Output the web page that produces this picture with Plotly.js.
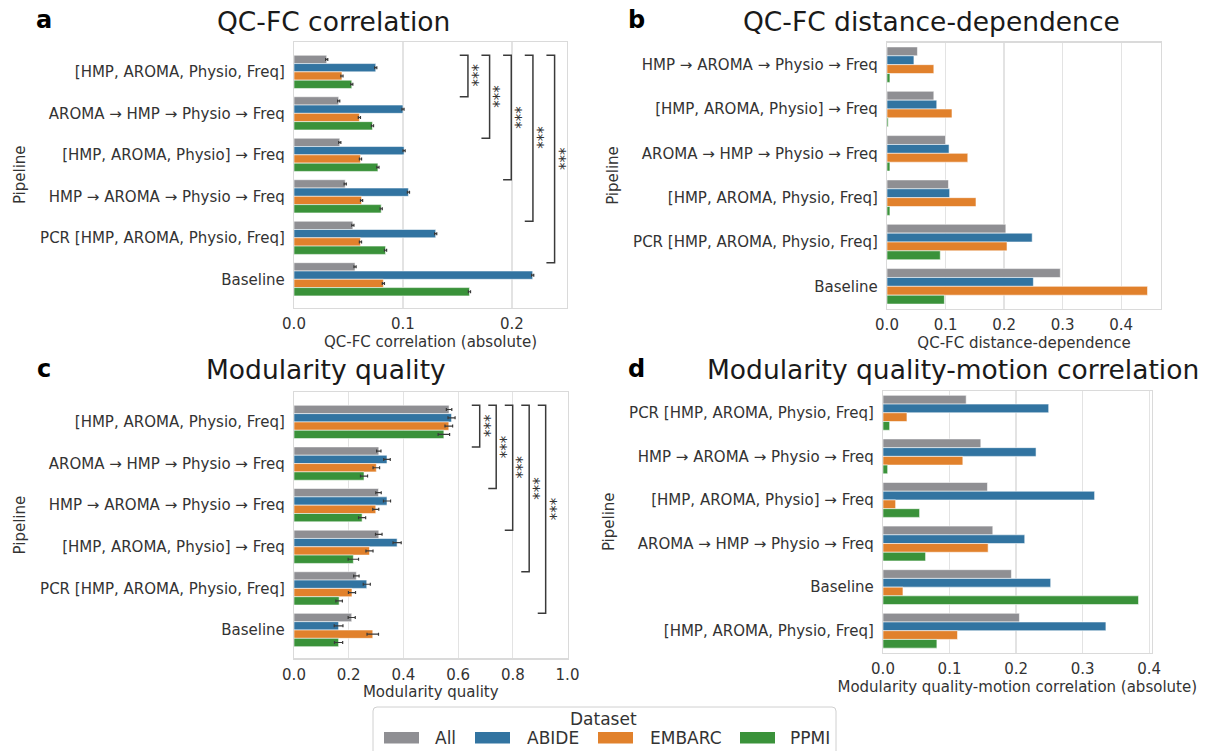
<!DOCTYPE html>
<html>
<head>
<meta charset="utf-8">
<script src="https://cdn.plot.ly/plotly-3.0.1.min.js"></script>
<style>html,body{margin:0;padding:0;background:#fff;}#chart{width:1211px;height:751px;}</style>
</head>
<body>
<div id="chart"></div>
<script>
// ---------------- DATA ----------------
const datasets = ['All', 'ABIDE', 'EMBARC', 'PPMI'];

// a: QC-FC correlation (absolute)
const qcfcPipelines = ['[HMP, AROMA, Physio, Freq]', 'AROMA → HMP → Physio → Freq', '[HMP, AROMA, Physio] → Freq', 'HMP → AROMA → Physio → Freq', 'PCR [HMP, AROMA, Physio, Freq]', 'Baseline'];
const qcfcAll    = [0.030, 0.041, 0.042, 0.047, 0.054, 0.056];
const qcfcABIDE  = [0.075, 0.100, 0.101, 0.105, 0.130, 0.219];
const qcfcEMBARC = [0.044, 0.060, 0.061, 0.062, 0.061, 0.082];
const qcfcPPMI   = [0.053, 0.072, 0.077, 0.080, 0.084, 0.161];
const qcfcErr    = [0.001, 0.001, 0.001, 0.001, 0.001, 0.001];
const qcfcSigPairs = [[0, 1], [0, 2], [0, 3], [0, 4], [0, 5]];
const qcfcSigLabels = ['***', '***', '***', '***', '***'];

// b: QC-FC distance-dependence
const distPipelines = ['HMP → AROMA → Physio → Freq', '[HMP, AROMA, Physio] → Freq', 'AROMA → HMP → Physio → Freq', '[HMP, AROMA, Physio, Freq]', 'PCR [HMP, AROMA, Physio, Freq]', 'Baseline'];
const distAll    = [0.052, 0.080, 0.100, 0.105, 0.203, 0.296];
const distABIDE  = [0.046, 0.085, 0.106, 0.107, 0.248, 0.250];
const distEMBARC = [0.080, 0.111, 0.138, 0.152, 0.205, 0.445];
const distPPMI   = [0.005, 0.002, 0.005, 0.005, 0.091, 0.098];

// c: Modularity quality
const modPipelines = ['[HMP, AROMA, Physio, Freq]', 'AROMA → HMP → Physio → Freq', 'HMP → AROMA → Physio → Freq', '[HMP, AROMA, Physio] → Freq', 'PCR [HMP, AROMA, Physio, Freq]', 'Baseline'];
const modAll    = [0.567, 0.310, 0.309, 0.310, 0.228, 0.211];
const modABIDE  = [0.576, 0.340, 0.340, 0.377, 0.266, 0.163];
const modEMBARC = [0.566, 0.301, 0.299, 0.276, 0.212, 0.288];
const modPPMI   = [0.548, 0.256, 0.249, 0.217, 0.165, 0.163];
const modAllErr    = [0.010, 0.008, 0.010, 0.012, 0.010, 0.013];
const modABIDEErr  = [0.013, 0.012, 0.013, 0.015, 0.013, 0.016];
const modEMBARCErr = [0.014, 0.012, 0.011, 0.013, 0.013, 0.021];
const modPPMIErr   = [0.021, 0.013, 0.013, 0.019, 0.012, 0.015];
const modSigPairs = [[0, 1], [0, 2], [0, 3], [0, 4], [0, 5]];
const modSigLabels = ['***', '***', '***', '***', '***'];

// d: Modularity quality-motion correlation (absolute)
const qmPipelines = ['PCR [HMP, AROMA, Physio, Freq]', 'HMP → AROMA → Physio → Freq', '[HMP, AROMA, Physio] → Freq', 'AROMA → HMP → Physio → Freq', 'Baseline', '[HMP, AROMA, Physio, Freq]'];
const qmAll    = [0.125, 0.147, 0.157, 0.165, 0.193, 0.205];
const qmABIDE  = [0.249, 0.230, 0.318, 0.213, 0.252, 0.335];
const qmEMBARC = [0.036, 0.120, 0.019, 0.158, 0.030, 0.112];
const qmPPMI   = [0.010, 0.007, 0.055, 0.064, 0.384, 0.081];

// ---------------- STYLE ----------------
const W = 1211, H = 751;
const FONT = 'DejaVu Sans, Verdana, sans-serif';
const TXT = '#333333';
const colors = ['#8f8f93', '#3274a1', '#e1812c', '#3a923a'];
const px = v => v / W;
const py = v => 1 - v / H;

const panels = [
  { n: '',  cats: qcfcPipelines, vals: [qcfcAll, qcfcABIDE, qcfcEMBARC, qcfcPPMI], errs: [qcfcErr, qcfcErr, qcfcErr, qcfcErr],
    xd: [294, 567], yd: [42, 307.5], xr: [0, 0.2505], yr: [5.68, -0.72], dtick: 0.1, xtitle: 'QC-FC correlation (absolute)' },
  { n: '2', cats: distPipelines, vals: [distAll, distABIDE, distEMBARC, distPPMI], errs: null,
    xd: [887, 1161], yd: [42.5, 308.5], xr: [0, 0.468], yr: [5.5, -0.5], dtick: 0.1, xtitle: 'QC-FC distance-dependence' },
  { n: '3', cats: modPipelines, vals: [modAll, modABIDE, modEMBARC, modPPMI], errs: [modAllErr, modABIDEErr, modEMBARCErr, modPPMIErr],
    xd: [294, 567.5], yd: [392, 658.3], xr: [0, 1.0], yr: [5.68, -0.72], dtick: 0.2, xtitle: 'Modularity quality' },
  { n: '4', cats: qmPipelines, vals: [qmAll, qmABIDE, qmEMBARC, qmPPMI], errs: null,
    xd: [883, 1151.5], yd: [391, 652.5], xr: [0, 0.4035], yr: [5.5, -0.5], dtick: 0.1, xtitle: 'Modularity quality-motion correlation (absolute)' }
];

const traces = [];
const layout = {
  width: W, height: H,
  margin: { l: 0, r: 0, t: 0, b: 0 },
  paper_bgcolor: '#ffffff', plot_bgcolor: '#ffffff',
  font: { family: FONT, color: TXT, size: 15 },
  barmode: 'group', bargap: 0.2, bargroupgap: 0,
  showlegend: false,
  shapes: [], annotations: []
};

panels.forEach(p => {
  datasets.forEach((ds, j) => {
    const t = {
      type: 'bar', orientation: 'h', name: ds,
      y: p.cats, x: p.vals[j],
      xaxis: 'x' + p.n, yaxis: 'y' + p.n,
      marker: { color: colors[j], line: { color: 'rgba(255,255,255,0.7)', width: 0.8 } },
      showlegend: false, hoverinfo: 'x+name'
    };
    if (p.errs) {
      t.error_x = { type: 'data', array: p.errs[j], visible: true, color: '#3a3a3a', thickness: 1.2, width: 1.5 };
    }
    traces.push(t);
  });
  layout['xaxis' + p.n] = {
    domain: [px(p.xd[0]), px(p.xd[1])], anchor: 'y' + p.n,
    range: p.xr, tick0: 0, dtick: p.dtick, tickformat: '.1f',
    showgrid: true, gridcolor: '#e3e3e3', gridwidth: 1.2, zeroline: false,
    showline: true, mirror: true, linecolor: '#dadada', linewidth: 1.2,
    ticks: 'outside', ticklen: 2, tickcolor: 'rgba(0,0,0,0)',
    tickfont: { family: FONT, size: 15, color: TXT },
    title: { text: p.xtitle, font: { family: FONT, size: 15, color: TXT }, standoff: 1 },
    fixedrange: true
  };
  layout['yaxis' + p.n] = {
    domain: [py(p.yd[1]), py(p.yd[0])], anchor: 'x' + p.n,
    type: 'category', categoryorder: 'array', categoryarray: p.cats,
    range: p.yr, showgrid: false, zeroline: false,
    showline: true, mirror: true, linecolor: '#dadada', linewidth: 1.2,
    ticks: 'outside', ticklen: 5, tickcolor: 'rgba(0,0,0,0)',
    tickfont: { family: FONT, size: 15, color: TXT },
    title: { text: 'Pipeline', font: { family: FONT, size: 15, color: TXT }, standoff: 10 },
    fixedrange: true
  };
});

// significance brackets (panels a and c)
function addBrackets(axn, pairs, labels, x0, step, tickLen) {
  pairs.forEach((pr, i) => {
    const x = x0 + step * i;
    const ya = pr[0] - 0.4, yb = pr[1] - 0.4;
    layout.shapes.push({
      type: 'path', xref: 'x' + axn, yref: 'y' + axn,
      path: `M ${x - tickLen},${ya} L ${x},${ya} L ${x},${yb} L ${x - tickLen},${yb}`,
      line: { color: '#3a3a3a', width: 1.5 }
    });
    layout.annotations.push({
      xref: 'x' + axn, yref: 'y' + axn, x: x, y: (ya + yb) / 2, xshift: 4,
      text: labels[i], showarrow: false, textangle: 90,
      font: { family: FONT, size: 15, color: TXT }
    });
  });
}
addBrackets('', qcfcSigPairs, qcfcSigLabels, 0.1596, 0.01988, 0.0075);
addBrackets('3', modSigPairs, modSigLabels, 0.679, 0.0603, 0.029);

// panel titles and letters
const titles = [
  ['QC-FC correlation', 333, 21], ['QC-FC distance-dependence', 931, 21],
  ['Modularity quality', 326, 370], ['Modularity quality-motion correlation', 953, 370]
];
titles.forEach(t => layout.annotations.push({
  xref: 'paper', yref: 'paper', x: px(t[1]), y: py(t[2]), xanchor: 'center', yanchor: 'middle',
  text: t[0], showarrow: false, font: { family: FONT, size: 26.5, color: '#1a1a1a' }
}));
const letters = [['a', 44, 20], ['b', 636, 20], ['c', 44, 369], ['d', 636, 369]];
letters.forEach(t => layout.annotations.push({
  xref: 'paper', yref: 'paper', x: px(t[1]), y: py(t[2]), xanchor: 'center', yanchor: 'middle',
  text: '<b>' + t[0] + '</b>', showarrow: false, font: { family: FONT, size: 24, color: '#000' }
}));

// legend (drawn from datasets + colors)
const lgL = 373, lgR = 836, lgT = 707, lgB = 770, r = 4;
layout.shapes.push({
  type: 'path', xref: 'paper', yref: 'paper',
  path: `M ${px(lgL + r)},${py(lgT)} L ${px(lgR - r)},${py(lgT)} Q ${px(lgR)},${py(lgT)} ${px(lgR)},${py(lgT + r)} L ${px(lgR)},${py(lgB)} L ${px(lgL)},${py(lgB)} L ${px(lgL)},${py(lgT + r)} Q ${px(lgL)},${py(lgT)} ${px(lgL + r)},${py(lgT)} Z`,
  line: { color: '#d0d0d0', width: 1 }, fillcolor: 'rgba(255,255,255,0.8)'
});
layout.annotations.push({
  xref: 'paper', yref: 'paper', x: px(603), y: py(719), xanchor: 'center', yanchor: 'middle',
  text: 'Dataset', showarrow: false, font: { family: FONT, size: 17, color: TXT }
});
const patchX = [384, 475, 598, 740];
const labelX = [433, 525, 648, 788];
datasets.forEach((ds, j) => {
  layout.shapes.push({
    type: 'rect', xref: 'paper', yref: 'paper',
    x0: px(patchX[j]), x1: px(patchX[j] + 35), y0: py(743.5), y1: py(732),
    fillcolor: colors[j], line: { width: 0 }
  });
  layout.annotations.push({
    xref: 'paper', yref: 'paper', x: px(labelX[j]), y: py(738), xanchor: 'left', yanchor: 'middle',
    text: ds, showarrow: false, font: { family: FONT, size: 17, color: TXT }
  });
});

Plotly.newPlot('chart', traces, layout, { displayModeBar: false, staticPlot: true });
</script>
</body>
</html>
